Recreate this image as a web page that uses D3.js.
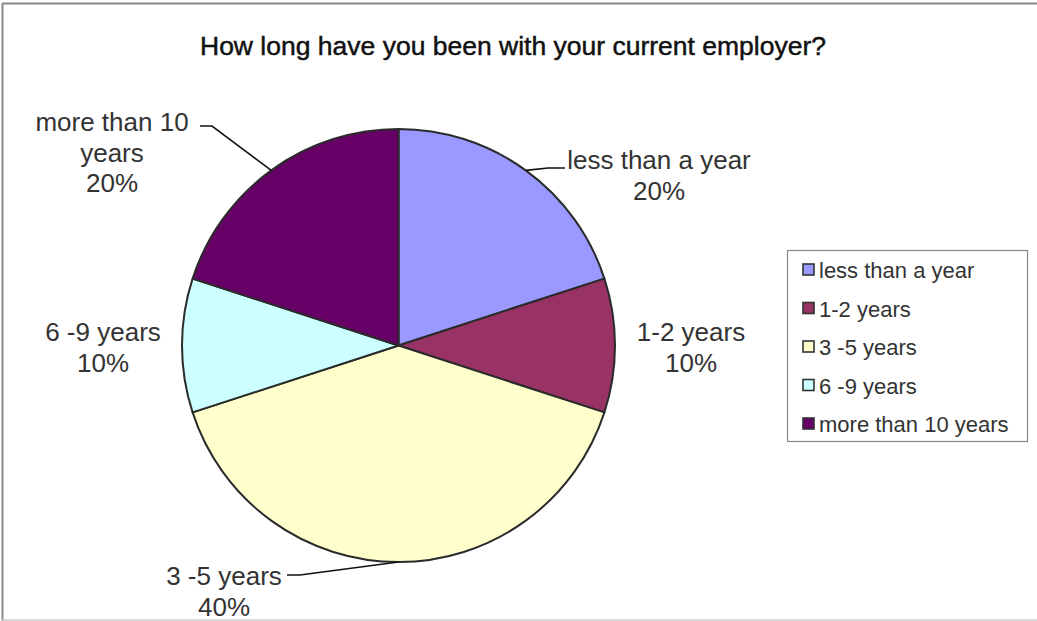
<!DOCTYPE html>
<html>
<head>
<meta charset="utf-8">
<script src="https://cdn.jsdelivr.net/npm/d3@7"></script>
<style>
  html, body { margin: 0; padding: 0; background: #fff; }
  svg { display: block; }
  text { font-family: "Liberation Sans", Arial, sans-serif; }
</style>
</head>
<body>
<svg id="chart" width="1037" height="621"></svg>
<script>
// Survey answers: time spent with the current employer
const categories = ["less than a year", "1-2 years", "3 -5 years", "6 -9 years", "more than 10 years"];
const shares = [20, 10, 40, 10, 20];
const sliceColors = ["#9999FF", "#993366", "#FFFFCC", "#CCFFFF", "#660066"];
const labelLines = [["less than a year"], ["1-2 years"], ["3 -5 years"], ["6 -9 years"], ["more than 10", "years"]];
const titleText = "How long have you been with your current employer?";

const svg = d3.select("#chart");
const W = 1037, H = 621;

// chart frame
svg.append("line").attr("x1", 2.5).attr("y1", 3.5).attr("x2", W).attr("y2", 3.5)
  .attr("stroke", "#888").attr("stroke-width", 2);
svg.append("line").attr("x1", 2.5).attr("y1", 3).attr("x2", 2.5).attr("y2", H)
  .attr("stroke", "#888").attr("stroke-width", 2);
svg.append("line").attr("x1", 2).attr("y1", 620).attr("x2", W).attr("y2", 620)
  .attr("stroke", "#ccc").attr("stroke-width", 1.5);

// title
svg.append("text")
  .attr("x", 513).attr("y", 55)
  .attr("text-anchor", "middle")
  .attr("font-size", 25)
  .attr("fill", "#111")
  .attr("stroke", "#111")
  .attr("stroke-width", 0.45)
  .attr("textLength", 626)
  .attr("lengthAdjust", "spacingAndGlyphs")
  .text(titleText);

// pie
const cx = 398.5, cy = 345.5, r = 216.5;
const color = d3.scaleOrdinal().domain(categories).range(sliceColors);
const pie = d3.pie().value(d => d.v).sort(null);
const data = categories.map((c, i) => ({ c, v: shares[i], i }));
const arcs = pie(data);
const arc = d3.arc().innerRadius(0).outerRadius(r);
const total = d3.sum(shares);

const g = svg.append("g").attr("transform", `translate(${cx},${cy})`);
g.selectAll("path").data(arcs).join("path")
  .attr("d", arc)
  .attr("fill", d => color(d.data.c))
  .attr("stroke", "#2b2b2b")
  .attr("stroke-width", 2)
  .attr("stroke-linejoin", "round");

// data labels with leader lines to the slice mid-angle
const labelSpec = [
  { x: 659, y: 169, leader: [[565, 168], [548, 168]] },
  { x: 691, y: 341, leader: null },
  { x: 224, y: 585, leader: [[287, 575], [300, 575]] },
  { x: 103, y: 341, leader: null },
  { x: 112, y: 131, leader: [[200, 126], [212, 126]] }
];
const lineH = 30.5;
const fmt = d => Math.round(d / total * 100) + "%";

arcs.forEach((a, i) => {
  const s = labelSpec[i];
  if (s.leader) {
    const mid = (a.startAngle + a.endAngle) / 2;
    const ex = cx + r * Math.sin(mid), ey = cy - r * Math.cos(mid);
    const pts = [s.leader[0], s.leader[1], [ex, ey]];
    svg.append("path")
      .attr("d", d3.line()(pts))
      .attr("fill", "none")
      .attr("stroke", "#111")
      .attr("stroke-width", 1.6);
  }
  const t = svg.append("text")
    .attr("text-anchor", "middle")
    .attr("font-size", 26)
    .attr("fill", "#333");
  const lines = labelLines[i].concat([fmt(a.data.v)]);
  lines.forEach((ln, k) => {
    t.append("tspan").attr("x", s.x).attr("y", s.y + k * lineH).text(ln);
  });
});

// legend
const lg = svg.append("g");
lg.append("rect").attr("x", 787.5).attr("y", 250.5).attr("width", 240).attr("height", 191)
  .attr("fill", "#fff").attr("stroke", "#888").attr("stroke-width", 1.2);
const rowY = d3.scalePoint().domain(categories).range([270, 424]);
categories.forEach(c => {
  const y = rowY(c);
  lg.append("rect").attr("x", 803).attr("y", y - 6).attr("width", 11).attr("height", 11)
    .attr("fill", color(c)).attr("stroke", "#333").attr("stroke-width", 1.6);
  lg.append("text").attr("x", 819).attr("y", y + 8)
    .attr("font-size", 22).attr("fill", "#333").text(c);
});
</script>
</body>
</html>
